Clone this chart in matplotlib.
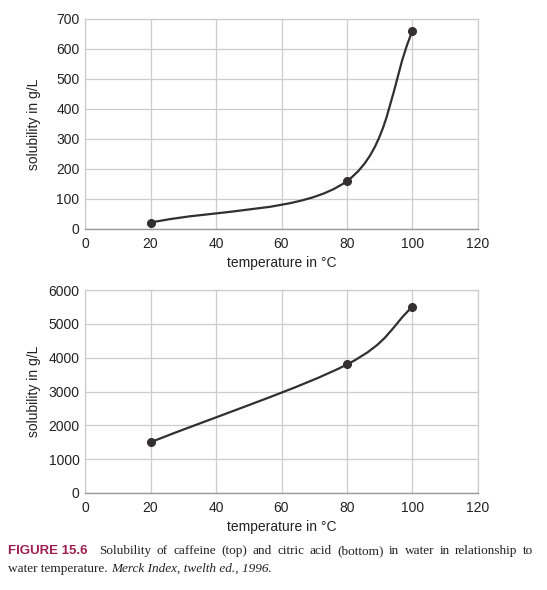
import matplotlib
matplotlib.use("Agg")
import matplotlib.pyplot as plt
from matplotlib.path import Path
from matplotlib.patches import PathPatch

plt.rcParams['font.family'] = ['Liberation Sans', 'DejaVu Sans']

temps = [20, 80, 100]
caffeine = [21, 160, 660]
citric_acid = [1500, 3800, 5500]

x_ticks = [0, 20, 40, 60, 80, 100, 120]
caffeine_ticks = [0, 100, 200, 300, 400, 500, 600, 700]
citric_ticks = [0, 1000, 2000, 3000, 4000, 5000, 6000]

LINE_COLOR = "#332e2f"
GRID_COLOR = "#cccccc"


def smooth_path(xs, ys):
    # cardinal spline through the points, drawn as cubic bezier segments
    n = len(xs)
    tangents = []
    for i in range(n):
        if i == 0:
            tx, ty = xs[1] - xs[0], ys[1] - ys[0]
        elif i == n - 1:
            tx, ty = xs[-1] - xs[-2], ys[-1] - ys[-2]
        else:
            tx, ty = (xs[i + 1] - xs[i - 1]) / 2, (ys[i + 1] - ys[i - 1]) / 2
        tangents.append((tx, ty))
    verts = [(xs[0], ys[0])]
    codes = [Path.MOVETO]
    for i in range(n - 1):
        t0, t1 = tangents[i], tangents[i + 1]
        verts += [(xs[i] + t0[0] / 3, ys[i] + t0[1] / 3),
                  (xs[i + 1] - t1[0] / 3, ys[i + 1] - t1[1] / 3),
                  (xs[i + 1], ys[i + 1])]
        codes += [Path.CURVE4] * 3
    return Path(verts, codes)


def draw_panel(ax, ys, yticks):
    ax.add_patch(PathPatch(smooth_path(temps, ys), facecolor="none",
                           edgecolor=LINE_COLOR, lw=1.6, zorder=3))
    ax.plot(temps, ys, 'o', color=LINE_COLOR, markersize=5.5, zorder=4)
    ax.set_xlim(0, 120)
    ax.set_ylim(yticks[0], yticks[-1])
    ax.set_xticks(x_ticks)
    ax.set_yticks(yticks)
    ax.grid(True, color=GRID_COLOR, lw=0.9)
    ax.set_axisbelow(True)
    for side in ["top", "right", "left"]:
        ax.spines[side].set_color(GRID_COLOR)
        ax.spines[side].set_linewidth(0.9)
    ax.spines["bottom"].set_color("#999999")
    ax.spines["bottom"].set_linewidth(1.0)
    ax.tick_params(length=0, labelsize=10, colors="#222222")
    ax.tick_params(axis="x", pad=6)
    ax.tick_params(axis="y", pad=4)
    ax.set_xlabel("temperature in °C", fontsize=10, color="#222222", labelpad=3)
    ax.set_ylabel("solubility in g/L", fontsize=10, color="#222222", va="center")
    ax.yaxis.set_label_coords(-51 / 393, 0.5)


fig = plt.figure(figsize=(5.47, 5.9), dpi=100)
ax1 = fig.add_axes([85 / 547, 1 - 229 / 590, 393 / 547, 210 / 590])
ax2 = fig.add_axes([85 / 547, 1 - 493 / 590, 393 / 547, 203 / 590])
draw_panel(ax1, caffeine, caffeine_ticks)
draw_panel(ax2, citric_acid, citric_ticks)

# caption, first line justified between left and right margins
renderer = fig.canvas.get_renderer()
W, H = 547, 590
left_px, right_px = 8, 533
y1 = 1 - 551 / H
y2 = 1 - 569 / H

head = fig.text(left_px / W, y1, "FIGURE 15.6", fontsize=9.5, fontweight="bold",
                color="#9e1f4c", va="center", ha="left",
                family=["Liberation Sans", "DejaVu Sans"])
head_w = head.get_window_extent(renderer).width
start = left_px + head_w + 12
words = "Solubility of caffeine (top) and citric acid (bottom) in water in relationship to".split()
objs = [fig.text(0, y1, w, fontsize=9.5, family=["Liberation Serif"], va="center",
                 ha="left", color="#222222") for w in words]
widths = [o.get_window_extent(renderer).width for o in objs]
gap = (right_px - start - sum(widths)) / (len(words) - 1)
x = start
for o, w in zip(objs, widths):
    o.set_x(x / W)
    x += w + gap

t1 = fig.text(left_px / W, y2, "water temperature. ", fontsize=9.5,
              family=["Liberation Serif"], va="center", ha="left", color="#222222")
w1 = t1.get_window_extent(renderer).width
fig.text((left_px + w1) / W, y2, "Merck Index, twelth ed., 1996.", fontsize=9.5,
         family=["Liberation Serif"], style="italic", va="center", ha="left",
         color="#222222")

fig.savefig("out.png", dpi=100)
